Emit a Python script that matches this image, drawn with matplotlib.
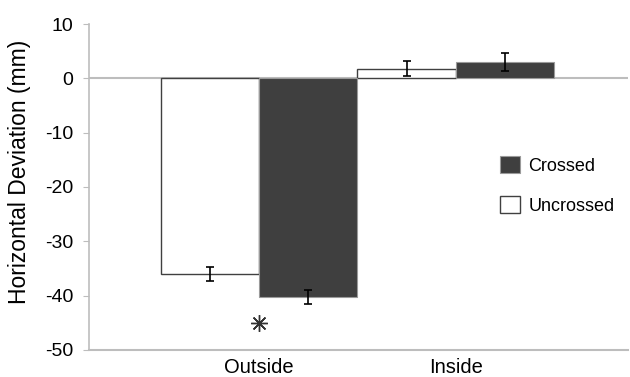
import matplotlib
matplotlib.use("Agg")
import matplotlib.pyplot as plt
import numpy as np

categories = ["Outside", "Inside"]
uncrossed = [-36.0, 1.8]
uncrossed_err = [1.3, 1.4]
crossed = [-40.3, 3.0]
crossed_err = [1.3, 1.6]
star_value = -45.0

plt.rcParams.update({
    "font.family": ["Liberation Sans", "DejaVu Sans"],
    "axes.unicode_minus": False,
})

fig = plt.figure(figsize=(6.3, 3.77), dpi=100)
ax = fig.add_axes([0.141, 0.072, 0.856, 0.864])

x = np.arange(len(categories))
w = 0.5
ax.bar(x - w / 2, uncrossed, w, color="white", edgecolor="#404040", linewidth=1.0,
       label="Uncrossed", zorder=2)
ax.bar(x + w / 2, crossed, w, color="#3f3f3f", edgecolor="#9a9a9a", linewidth=0.8,
       label="Crossed", zorder=2)
ax.errorbar(x - w / 2, uncrossed, yerr=uncrossed_err, fmt="none", ecolor="black",
            elinewidth=1.2, capsize=2.7, capthick=1.2, zorder=3)
ax.errorbar(x + w / 2, crossed, yerr=crossed_err, fmt="none", ecolor="black",
            elinewidth=1.2, capsize=2.7, capthick=1.2, zorder=3)

ax.plot([x[0]], [star_value], marker=(8, 2, 0), markersize=12, color="#333333",
        markeredgewidth=1.0, linestyle="none")

ax.axhline(0, color="#bdbdbd", linewidth=1.5, zorder=1)

ax.set_xlim(-0.867, 1.877)
ax.set_ylim(-50, 10)
ax.set_yticks(np.arange(-50, 11, 10))
ax.set_xticks(x)
ax.set_xticklabels(categories, fontsize=14.5)
ax.tick_params(axis="y", labelsize=14, length=4, color="#bdbdbd", direction="out", pad=7)
ax.tick_params(axis="x", length=0, pad=6)
ax.set_ylabel("Horizontal Deviation (mm)", fontsize=16.5)
ax.yaxis.set_label_coords(-0.108, 0.546)

for side in ["top", "right"]:
    ax.spines[side].set_visible(False)
ax.spines["left"].set_color("#bdbdbd")
ax.spines["bottom"].set_color("#bdbdbd")
ax.spines["left"].set_linewidth(1.2)
ax.spines["bottom"].set_linewidth(1.5)

handles, labels = ax.get_legend_handles_labels()
ax.legend(handles[::-1], labels[::-1], loc="center left", bbox_to_anchor=(0.733, 0.505),
          frameon=False, fontsize=13, handlelength=1.1, handleheight=1.05,
          labelspacing=1.2, handletextpad=0.45)

fig.savefig("out.png", dpi=100)
